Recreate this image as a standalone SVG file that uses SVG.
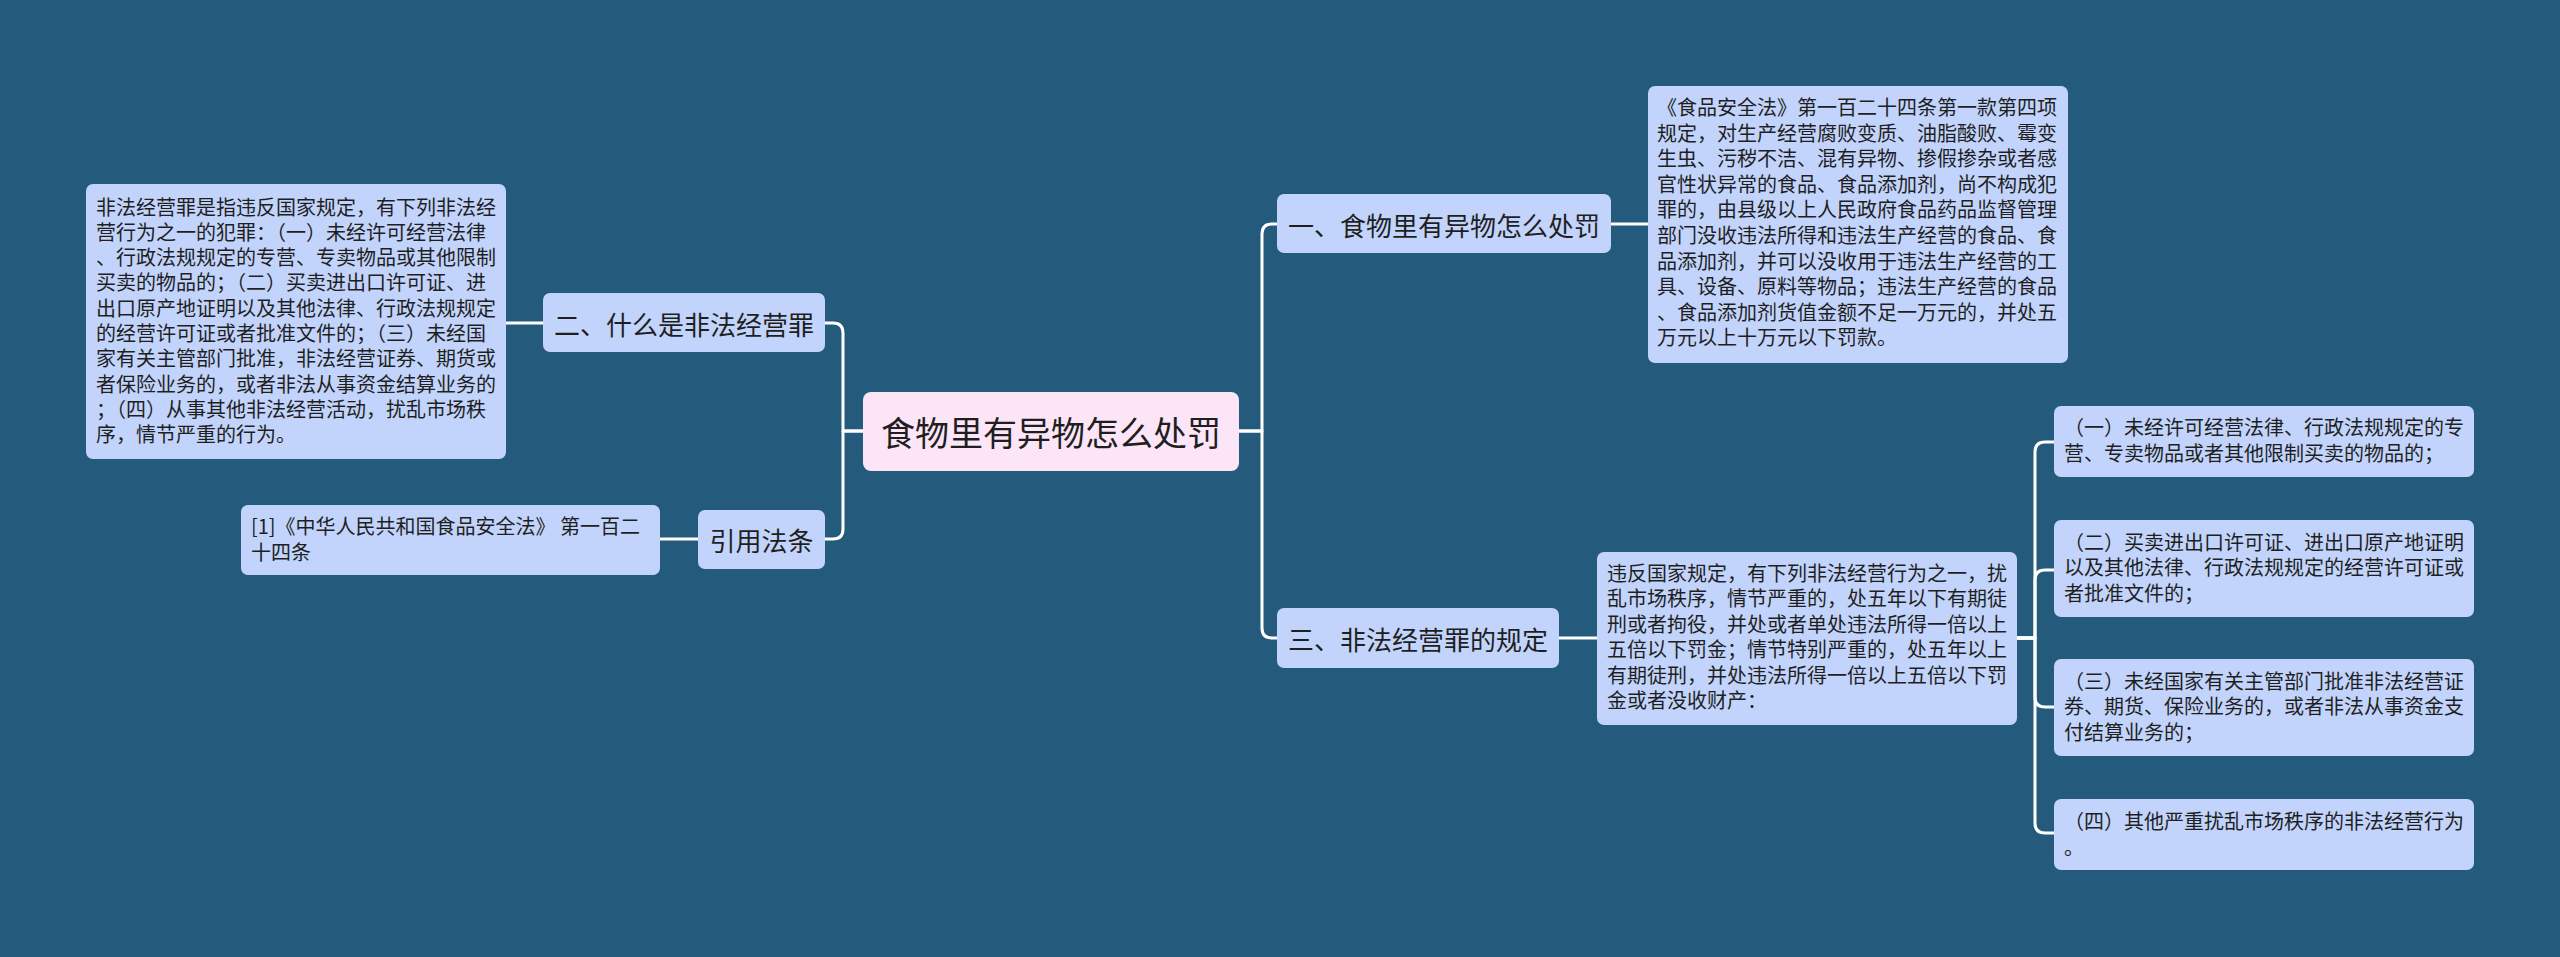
<svg xmlns="http://www.w3.org/2000/svg" width="2560" height="957" viewBox="0 0 2560 957">
<style>
.bg{fill:#245a7c}
.n{fill:#c2d4fb}
.root{fill:#fde5f8}
.t{font-family:"Noto Sans CJK SC","Noto Sans",sans-serif;fill:#1f1f1f}
.l1{font-size:26px;text-anchor:middle;dominant-baseline:central}
.l0{font-size:34px;text-anchor:middle;dominant-baseline:central}
.d{font-size:20px}
.c path{fill:none;stroke:#ffffff;stroke-width:3;stroke-linecap:round;stroke-linejoin:round}
</style>
<rect class="bg" x="0" y="0" width="2560" height="957"/>
<g class="c" id="connectors">
<path d="M863,431 H843 V333 Q843,323 833,323 H825"/>
<path d="M863,431 H843 V529 Q843,539 833,539 H825"/>
<path d="M543,323 H506"/>
<path d="M698,539 H660"/>
<path d="M1239,431 H1262 V234 Q1262,224 1272,224 H1277"/>
<path d="M1239,431 H1262 V628 Q1262,638 1272,638 H1277"/>
<path d="M1611,224 H1648"/>
<path d="M1559,638 H1597"/>
<path d="M2017,638 H2035 V452 Q2035,442 2045,442 H2054"/>
<path d="M2017,638 H2035 V580 Q2035,570 2045,570 H2054"/>
<path d="M2017,638 H2035 V697 Q2035,707 2045,707 H2054"/>
<path d="M2017,638 H2035 V823 Q2035,833 2045,833 H2054"/>
</g>
<g id="root">
<rect class="root" x="863" y="392" width="376" height="79" rx="8"/>
<text class="t l0" x="1051" y="431">食物里有异物怎么处罚</text>
</g>
<g id="n1">
<rect class="n" x="1277" y="194" width="334" height="59" rx="7"/>
<text class="t l1" x="1444" y="224">一、食物里有异物怎么处罚</text>
</g>
<g id="n1d">
<rect class="n" x="1648" y="86" width="420" height="277" rx="7"/>
<text class="t d" x="1657" y="115">
<tspan x="1657" y="115">《食品安全法》第一百二十四条第一款第四项</tspan>
<tspan x="1657" y="140.6">规定，对生产经营腐败变质、油脂酸败、霉变</tspan>
<tspan x="1657" y="166.2">生虫、污秽不洁、混有异物、掺假掺杂或者感</tspan>
<tspan x="1657" y="191.8">官性状异常的食品、食品添加剂，尚不构成犯</tspan>
<tspan x="1657" y="217.4">罪的，由县级以上人民政府食品药品监督管理</tspan>
<tspan x="1657" y="243">部门没收违法所得和违法生产经营的食品、食</tspan>
<tspan x="1657" y="268.6">品添加剂，并可以没收用于违法生产经营的工</tspan>
<tspan x="1657" y="294.2">具、设备、原料等物品；违法生产经营的食品</tspan>
<tspan x="1657" y="319.8">、食品添加剂货值金额不足一万元的，并处五</tspan>
<tspan x="1657" y="345.4">万元以上十万元以下罚款。</tspan>
</text>
</g>
<g id="n2">
<rect class="n" x="543" y="293" width="282" height="59" rx="7"/>
<text class="t l1" x="684" y="323">二、什么是非法经营罪</text>
</g>
<g id="n2d">
<rect class="n" x="86" y="184" width="420" height="275" rx="7"/>
<text class="t d" x="96" y="214.5">
<tspan x="96" y="214.5">非法经营罪是指违反国家规定，有下列非法经</tspan>
<tspan x="96" y="239.8">营行为之一的犯罪：（一）未经许可经营法律</tspan>
<tspan x="96" y="265.1">、行政法规规定的专营、专卖物品或其他限制</tspan>
<tspan x="96" y="290.4">买卖的物品的；（二）买卖进出口许可证、进</tspan>
<tspan x="96" y="315.7">出口原产地证明以及其他法律、行政法规规定</tspan>
<tspan x="96" y="341">的经营许可证或者批准文件的；（三）未经国</tspan>
<tspan x="96" y="366.3">家有关主管部门批准，非法经营证券、期货或</tspan>
<tspan x="96" y="391.6">者保险业务的，或者非法从事资金结算业务的</tspan>
<tspan x="96" y="416.9">；（四）从事其他非法经营活动，扰乱市场秩</tspan>
<tspan x="96" y="442.2">序，情节严重的行为。</tspan>
</text>
</g>
<g id="n3">
<rect class="n" x="698" y="510" width="127" height="59" rx="7"/>
<text class="t l1" x="761.5" y="539.5">引用法条</text>
</g>
<g id="n3d">
<rect class="n" x="241" y="505" width="419" height="70" rx="7"/>
<text class="t d" x="251" y="534">
<tspan x="251" y="534">[1]《中华人民共和国食品安全法》 第一百二</tspan>
<tspan x="251" y="559.5">十四条</tspan>
</text>
</g>
<g id="n4">
<rect class="n" x="1277" y="608" width="282" height="60" rx="7"/>
<text class="t l1" x="1418" y="638">三、非法经营罪的规定</text>
</g>
<g id="n4d">
<rect class="n" x="1597" y="552" width="420" height="173" rx="7"/>
<text class="t d" x="1607" y="581">
<tspan x="1607" y="581">违反国家规定，有下列非法经营行为之一，扰</tspan>
<tspan x="1607" y="606.4">乱市场秩序，情节严重的，处五年以下有期徒</tspan>
<tspan x="1607" y="631.8">刑或者拘役，并处或者单处违法所得一倍以上</tspan>
<tspan x="1607" y="657.2">五倍以下罚金；情节特别严重的，处五年以上</tspan>
<tspan x="1607" y="682.6">有期徒刑，并处违法所得一倍以上五倍以下罚</tspan>
<tspan x="1607" y="708">金或者没收财产：</tspan>
</text>
</g>
<g id="c1">
<rect class="n" x="2054" y="406" width="420" height="71" rx="7"/>
<text class="t d" x="2064" y="435">
<tspan x="2064" y="435">（一）未经许可经营法律、行政法规规定的专</tspan>
<tspan x="2064" y="460.5">营、专卖物品或者其他限制买卖的物品的；</tspan>
</text>
</g>
<g id="c2">
<rect class="n" x="2054" y="520" width="420" height="97" rx="7"/>
<text class="t d" x="2064" y="549.5">
<tspan x="2064" y="549.5">（二）买卖进出口许可证、进出口原产地证明</tspan>
<tspan x="2064" y="575">以及其他法律、行政法规规定的经营许可证或</tspan>
<tspan x="2064" y="600.5">者批准文件的；</tspan>
</text>
</g>
<g id="c3">
<rect class="n" x="2054" y="659" width="420" height="97" rx="7"/>
<text class="t d" x="2064" y="688.5">
<tspan x="2064" y="688.5">（三）未经国家有关主管部门批准非法经营证</tspan>
<tspan x="2064" y="714">券、期货、保险业务的，或者非法从事资金支</tspan>
<tspan x="2064" y="739.5">付结算业务的；</tspan>
</text>
</g>
<g id="c4">
<rect class="n" x="2054" y="799" width="420" height="71" rx="7"/>
<text class="t d" x="2064" y="829">
<tspan x="2064" y="829">（四）其他严重扰乱市场秩序的非法经营行为</tspan>
<tspan x="2064" y="854.5">。</tspan>
</text>
</g>
</svg>
